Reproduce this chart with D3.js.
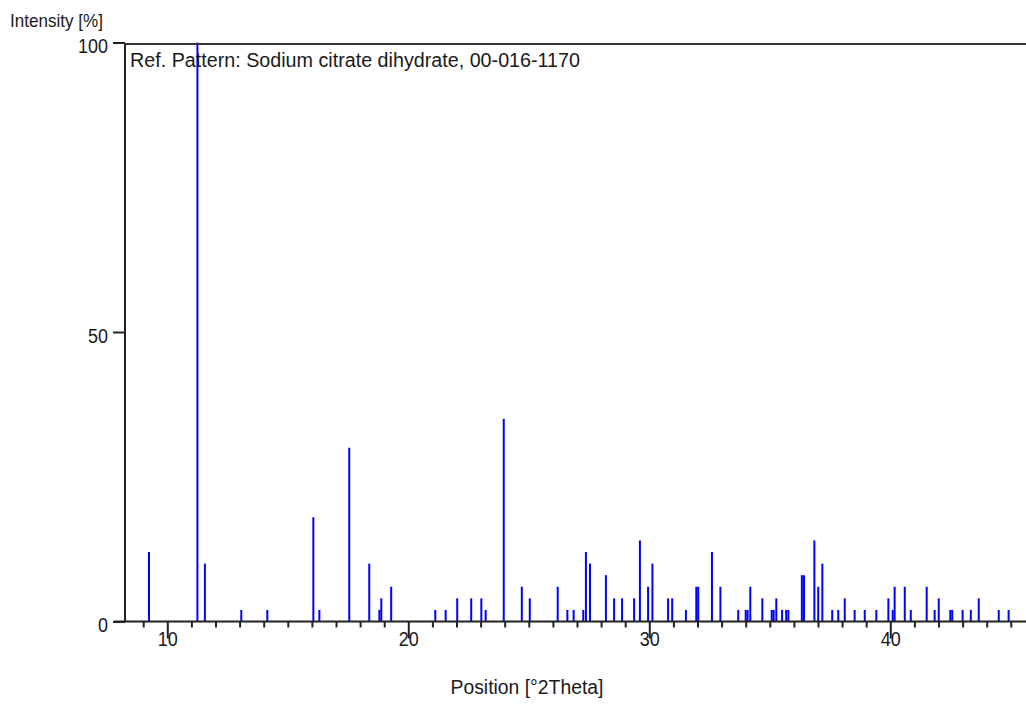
<!DOCTYPE html>
<html>
<head>
<meta charset="utf-8">
<script src="https://cdn.jsdelivr.net/npm/d3@7"></script>
<style>
  html, body { margin: 0; padding: 0; background: #fff; }
  svg { display: block; }
  text { font-family: "Liberation Sans", Arial, sans-serif; fill: #1a1a1a; }
</style>
</head>
<body>
<svg id="chart" width="1026" height="704"></svg>
<script>
// Reference pattern peak list: position (°2θ) and relative intensity (%)
const peakPositions = [
  9.24, 11.25, 11.56, 13.07, 14.15, 16.06, 16.31, 17.55, 18.38, 18.80,
  18.88, 19.29, 21.12, 21.55, 22.03, 22.61, 23.03, 23.21, 23.96, 24.71,
  25.04, 26.20, 26.60, 26.86, 27.26, 27.37, 27.54, 28.20, 28.54, 28.87,
  29.37, 29.61, 29.95, 30.13, 30.78, 30.95, 31.52, 31.95, 32.03, 32.60,
  32.95, 33.69, 34.00, 34.08, 34.19, 34.69, 35.08, 35.16, 35.27, 35.51,
  35.68, 35.77, 36.33, 36.42, 36.85, 37.01, 37.18, 37.59, 37.84, 38.11,
  38.52, 38.94, 39.42, 39.92, 40.10, 40.18, 40.60, 40.85, 41.51, 41.84,
  42.01, 42.49, 42.57, 43.00, 43.34, 43.67, 44.50, 44.91
];
const peakIntensities = [
  12, 100, 10, 2, 2, 18, 2, 30, 10, 2,
  4, 6, 2, 2, 4, 4, 4, 2, 35, 6,
  4, 6, 2, 2, 2, 12, 10, 8, 4, 4,
  4, 14, 6, 10, 4, 4, 2, 6, 6, 12,
  6, 2, 2, 2, 6, 4, 2, 2, 4, 2,
  2, 2, 8, 8, 14, 6, 10, 2, 2, 4,
  2, 2, 2, 4, 2, 6, 6, 2, 6, 2,
  4, 2, 2, 2, 2, 4, 2, 2
];
const xMajorTicks = [10, 20, 30, 40];
const xMinorTicks = [9, 11, 12, 13, 14, 15, 16, 17, 18, 19, 21, 22, 23, 24, 25, 26, 27, 28, 29,
                     31, 32, 33, 34, 35, 36, 37, 38, 39, 41, 42, 43, 44, 45];
const yTicks = [0, 50, 100];
const patternLabel = "Ref. Pattern: Sodium citrate dihydrate, 00-016-1170";
const yTitle = "Intensity [%]";
const xTitle = "Position [°2Theta]";

const svg = d3.select("#chart");
const W = 1026;

const x = d3.scaleLinear().domain([10, 40]).range([167.3, 890.3]);
const y = d3.scaleLinear().domain([0, 100]).range([621.5, 42.5]);
const plotLeft = 125;

const peaks = peakPositions.map((p, i) => ({ pos: p, val: peakIntensities[i] }));

// Narrow, tall lettering: fixed advance per digit
const digitWidth = 10;
function styleTickText(sel) {
  sel.attr("font-size", 20)
    .attr("font-family", "Liberation Sans, Arial, sans-serif")
    .attr("fill", "#1a1a1a")
    .attr("lengthAdjust", "spacingAndGlyphs")
    .attr("textLength", function () { return this.textContent.length * digitWidth; });
}

// Stick peaks
svg.append("g")
  .selectAll("line")
  .data(peaks)
  .join("line")
  .attr("x1", d => x(d.pos)).attr("x2", d => x(d.pos))
  .attr("y1", y(0)).attr("y2", d => y(d.val))
  .attr("stroke", "#0000ff")
  .attr("stroke-width", 2);

// Frame: left axis line and top border
svg.append("line")
  .attr("x1", plotLeft).attr("x2", plotLeft)
  .attr("y1", y(100) + 0.5).attr("y2", y(0))
  .attr("stroke", "#222").attr("stroke-width", 2);
svg.append("line")
  .attr("x1", plotLeft - 1).attr("x2", W)
  .attr("y1", y(100) + 1.5).attr("y2", y(100) + 1.5)
  .attr("stroke", "#333").attr("stroke-width", 2);

// X axis: minor and major ticks, baseline extended to the left tick
const xMinor = svg.append("g").attr("transform", `translate(0,${y(0)})`)
  .call(d3.axisBottom(x).tickValues(xMinorTicks).tickSize(6).tickFormat(""));
const xMajor = svg.append("g").attr("transform", `translate(0,${y(0)})`)
  .call(d3.axisBottom(x).tickValues(xMajorTicks).tickSize(17).tickPadding(3).tickFormat(d3.format("d")));
[xMinor, xMajor].forEach(g => {
  g.select(".domain").remove();
  g.selectAll(".tick line").attr("stroke", "#222").attr("stroke-width", 2);
});
xMajor.selectAll(".tick text").call(styleTickText).attr("dy", "0.2em");
svg.append("line")
  .attr("x1", 114).attr("x2", W)
  .attr("y1", y(0)).attr("y2", y(0))
  .attr("stroke", "#222").attr("stroke-width", 2);

// Y axis ticks and labels
const yAxis = svg.append("g").attr("transform", `translate(${plotLeft},0)`)
  .call(d3.axisLeft(y).tickValues(yTicks).tickSize(12).tickPadding(5).tickFormat(d3.format("d")));
yAxis.select(".domain").remove();
yAxis.selectAll(".tick line").attr("stroke", "#222").attr("stroke-width", 2);
yAxis.selectAll(".tick text").call(styleTickText).attr("dy", "0.5em");

// Titles
svg.append("text")
  .attr("x", 10).attr("y", 27)
  .attr("font-size", 19)
  .attr("textLength", 93).attr("lengthAdjust", "spacingAndGlyphs")
  .text(yTitle);
svg.append("text")
  .attr("x", 527).attr("y", 694)
  .attr("text-anchor", "middle")
  .attr("font-size", 20)
  .attr("textLength", 153).attr("lengthAdjust", "spacingAndGlyphs")
  .text(xTitle);

// Pattern caption inside the plot
svg.append("text")
  .attr("x", 130).attr("y", 67)
  .attr("font-size", 20)
  .attr("textLength", 450).attr("lengthAdjust", "spacingAndGlyphs")
  .text(patternLabel);
</script>
</body>
</html>
